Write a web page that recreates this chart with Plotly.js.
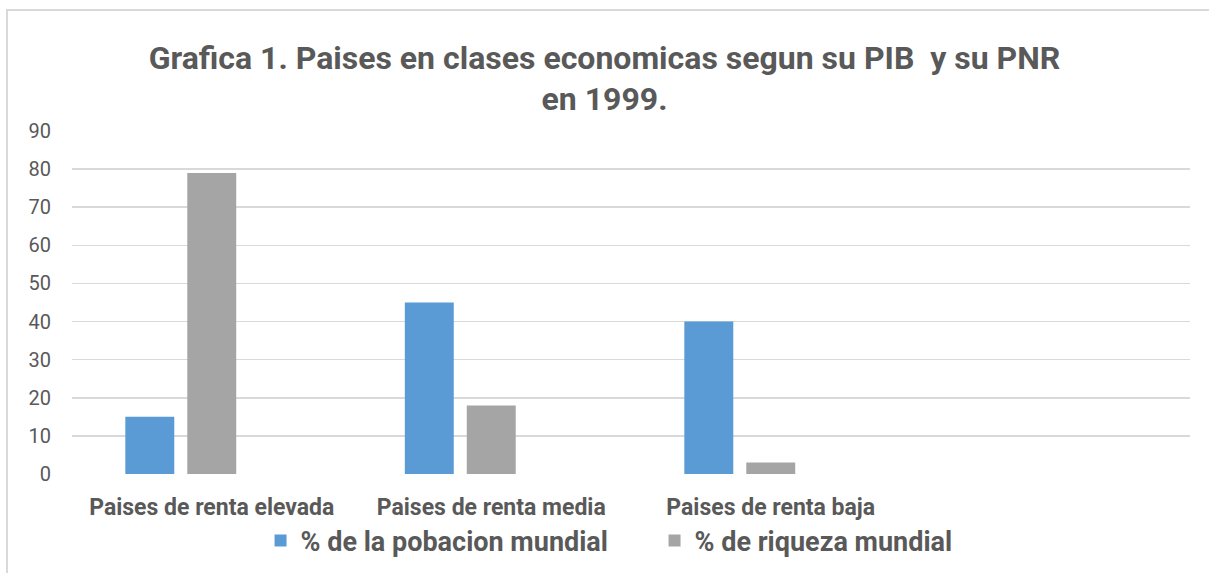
<!DOCTYPE html>
<html>
<head>
<meta charset="utf-8">
<script src="https://cdn.plot.ly/plotly-3.0.1.min.js"></script>
<style>
  html, body { margin: 0; padding: 0; background: #fff; }
  #wrap { position: relative; width: 1209px; height: 573px; overflow: hidden; }
  #chart { width: 1209px; height: 573px; }
  #frame { position: absolute; left: 6px; top: 9px; width: 1300px; height: 700px;
           border-left: 2px solid #d9d9d9; border-top: 2px solid #d9d9d9; pointer-events: none; }
</style>
</head>
<body>
<div id="wrap"><div id="chart"></div><div id="frame"></div></div>
<script>
const categories = ["Paises de renta elevada", "Paises de renta media", "Paises de renta baja"];
const poblacion = [15, 45, 40];
const riqueza = [79, 18, 3];
const emptySeries = [null, null, null];
const yTicks = [0, 10, 20, 30, 40, 50, 60, 70, 80, 90];

const FONT = "Roboto, 'Open Sans', sans-serif";
const positions = categories.map((c, i) => i);

const traces = [
  { type: 'bar', name: '<b>% de la pobacion mundial</b>', x: positions, y: poblacion,
    marker: { color: '#5B9BD5', line: { width: 0 } }, hoverinfo: 'skip' },
  { type: 'bar', name: '<b>% de riqueza mundial</b>', x: positions, y: riqueza,
    marker: { color: '#A5A5A5', line: { width: 0 } }, hoverinfo: 'skip' },
  { type: 'bar', name: '', x: positions, y: emptySeries, showlegend: false,
    marker: { color: '#ED7D31', line: { width: 0 } }, hoverinfo: 'skip' }
];

const layout = {
  width: 1209, height: 573,
  margin: { l: 72, r: 19, t: 131, b: 99 },
  paper_bgcolor: 'rgba(0,0,0,0)', plot_bgcolor: 'rgba(0,0,0,0)',
  font: { family: FONT, color: '#595959' },
  title: {
    text: '<b>Grafica 1. Paises en clases economicas segun su PIB  y su PNR<br>en 1999.</b>',
    x: 0.5, xanchor: 'center', xref: 'container',
    y: 0.88, yanchor: 'top', yref: 'container',
    font: { family: FONT, size: 32, color: '#595959' }
  },
  barmode: 'group', bargap: 0.335, bargroupgap: 0.21,
  xaxis: {
    range: [-0.5, 3.5], tickmode: 'array', tickvals: positions,
    ticktext: categories.map(c => '<b>' + c + '</b>'),
    showgrid: false, zeroline: false, showline: false, ticks: '',
    ticklabelstandoff: 17, automargin: false,
    tickfont: { family: FONT, size: 23, color: '#595959' }
  },
  yaxis: {
    range: [0, 90], tickmode: 'array', tickvals: yTicks,
    showgrid: true, gridcolor: '#D9D9D9', gridwidth: 1.5,
    zeroline: false, showline: false, ticks: '',
    ticklabelstandoff: 20, automargin: false,
    tickfont: { family: FONT, size: 20, color: '#595959' }
  },
  legend: {
    orientation: 'h', x: 0.2155, xanchor: 'left', xref: 'container',
    y: 0.056, yanchor: 'middle', yref: 'container',
    font: { family: FONT, size: 27, color: '#595959' },
    itemwidth: 30, tracegroupgap: 0,
    entrywidth: 349, entrywidthmode: 'pixels'
  },
  showlegend: true
};

Plotly.newPlot('chart', traces, layout, { displayModeBar: false, staticPlot: true });
</script>
</body>
</html>
